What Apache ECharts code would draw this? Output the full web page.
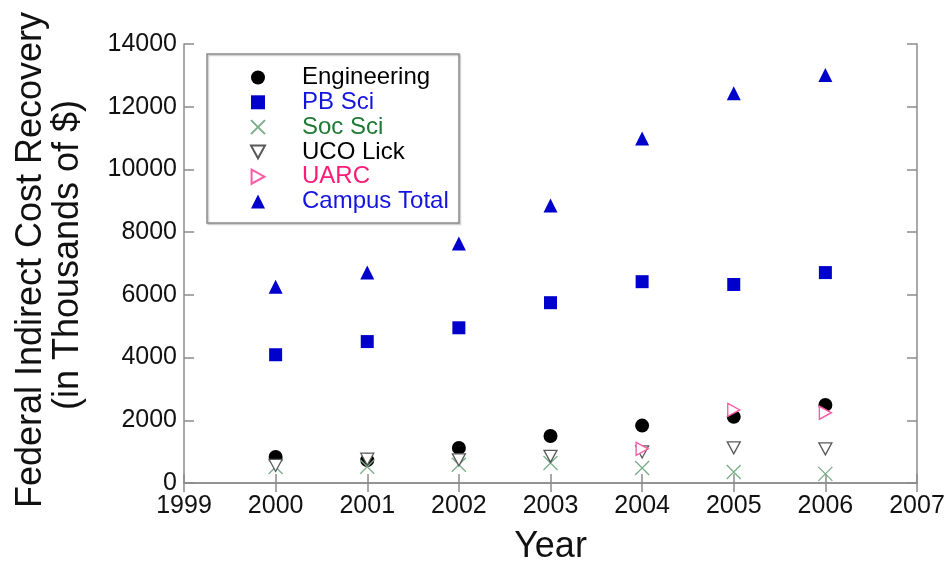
<!DOCTYPE html>
<html>
<head>
<meta charset="utf-8">
<script src="https://cdn.jsdelivr.net/npm/echarts@6/dist/echarts.min.js"></script>
<style>
html,body{margin:0;padding:0;background:#fff;}
#chart{width:952px;height:571px;}
</style>
</head>
<body>
<div id="chart"></div>
<script>
// ---- data ----
var years = [2000, 2001, 2002, 2003, 2004, 2005, 2006];
var engineering = [830, 730, 1120, 1500, 1830, 2110, 2490];
var pbSci = [4090, 4510, 4950, 5750, 6420, 6330, 6710];
var socSci = [510, 520, 580, 640, 480, 350, 290];
var ucoLick = [560, 760, 740, 850, 990, 1120, 1090];
var uarc = [null, null, null, null, 1090, 2330, 2240];
var campusTotal = [6260, 6710, 7640, 8850, 10990, 12430, 13010];
var xTicks = [1999, 2000, 2001, 2002, 2003, 2004, 2005, 2006, 2007];
var yTicks = [0, 2000, 4000, 6000, 8000, 10000, 12000, 14000];

var FONT = "'Liberation Sans', Arial, Helvetica, sans-serif";
var AXIS_COLOR = '#8c8c8c';

function pairs(vals) {
  return years.map(function (y, i) { return [y, vals[i]]; })
    .filter(function (p) { return p[1] !== null; });
}

var chart = echarts.init(document.getElementById('chart'), null, {renderer: 'canvas'});

var axisLineStyle = {lineStyle: {color: AXIS_COLOR, width: 1.5}};
var plain = function (v) { return String(v); };

var option = {
  backgroundColor: '#ffffff',
  animation: false,
  textStyle: {fontFamily: FONT},
  grid: {left: 184, right: 35, top: 44, bottom: 88},
  xAxis: [{
    type: 'value', min: xTicks[0], max: xTicks[xTicks.length - 1], interval: 1,
    splitLine: {show: false},
    axisLine: axisLineStyle,
    axisTick: {inside: true, length: 9, lineStyle: {color: AXIS_COLOR, width: 1.5}},
    axisLabel: {color: '#111', fontSize: 25, fontFamily: FONT, margin: 11, formatter: plain},
    name: 'Year', nameLocation: 'middle', nameGap: 46,
    nameTextStyle: {fontSize: 36, color: '#111', fontFamily: FONT}
  }, {
    type: 'value', position: 'top', min: xTicks[0], max: xTicks[xTicks.length - 1], interval: 1,
    splitLine: {show: false},
    axisLine: axisLineStyle,
    axisTick: {inside: true, length: 9, lineStyle: {color: AXIS_COLOR, width: 1.5}},
    axisLabel: {show: false}
  }],
  yAxis: [{
    type: 'value', min: yTicks[0], max: yTicks[yTicks.length - 1], interval: 2000,
    splitLine: {show: false},
    axisLine: axisLineStyle,
    axisTick: {inside: true, length: 10, lineStyle: {color: AXIS_COLOR, width: 1.5}},
    axisLabel: {color: '#111', fontSize: 25, fontFamily: FONT, margin: 7, formatter: plain}
  }, {
    type: 'value', position: 'right', min: yTicks[0], max: yTicks[yTicks.length - 1], interval: 2000,
    splitLine: {show: false},
    axisLine: axisLineStyle,
    axisTick: {inside: true, length: 10, lineStyle: {color: AXIS_COLOR, width: 1.5}},
    axisLabel: {show: false}
  }],
  legend: {
    orient: 'vertical', left: 207, top: 54,
    padding: [11.5, 8, 10, 43],
    itemWidth: 14, itemHeight: 14, itemGap: 0.8,
    selectedMode: false,
    textStyle: {fontSize: 24, fontFamily: FONT, color: '#000', padding: [0, 0, 0, 32]},
    data: [
      {name: 'Engineering', textStyle: {color: '#000000'}},
      {name: 'PB Sci', textStyle: {color: '#1414e0'}},
      {name: 'Soc Sci', textStyle: {color: '#1f7a35'}},
      {name: 'UCO Lick', textStyle: {color: '#000000'}},
      {name: 'UARC', textStyle: {color: '#ff1a75'}},
      {name: 'Campus Total', textStyle: {color: '#1414e0'}}
    ]
  },
  graphic: [
    {type: 'rect', z: 0, shape: {x: 207, y: 54, width: 252, height: 169},
      style: {fill: '#fff', stroke: '#8c8c8c', lineWidth: 1.5,
        shadowBlur: 1.5, shadowOffsetX: 1.2, shadowOffsetY: 1.2, shadowColor: 'rgba(0,0,0,0.25)'}},
    {type: 'text', x: 31, y: 260, rotation: Math.PI / 2,
      style: {text: 'Federal Indirect Cost Recovery', font: '36px ' + FONT, fill: '#111',
        textAlign: 'center', textVerticalAlign: 'middle'}},
    {type: 'text', x: 68, y: 255, rotation: Math.PI / 2,
      style: {text: '(in Thousands of $)', font: '36px ' + FONT, fill: '#111',
        textAlign: 'center', textVerticalAlign: 'middle'}}
  ],
  series: [
    {name: 'Engineering', type: 'scatter', data: pairs(engineering),
      symbol: 'circle', symbolSize: 14, itemStyle: {color: '#000000', opacity: 1}},
    {name: 'PB Sci', type: 'scatter', data: pairs(pbSci),
      symbol: 'rect', symbolSize: 13, itemStyle: {color: '#0000cc', opacity: 1}},
    {name: 'Soc Sci', type: 'scatter', data: pairs(socSci),
      symbol: 'path://M0,0L10,10M10,0L0,10', symbolSize: 14,
      itemStyle: {color: 'rgba(0,0,0,0)', borderColor: '#7aae88', borderWidth: 1.3, opacity: 1}},
    {name: 'UCO Lick', type: 'scatter', data: pairs(ucoLick),
      symbol: 'path://M0,0L12,0L6,11Z', symbolSize: [13, 12],
      itemStyle: {color: '#ffffff', borderColor: '#5a5a5a', borderWidth: 1.3, opacity: 1}},
    {name: 'UARC', type: 'scatter', data: pairs(uarc),
      symbol: 'path://M0,0L11,6L0,12Z', symbolSize: [12, 13],
      itemStyle: {color: '#ffffff', borderColor: '#ff5aa5', borderWidth: 1.4, opacity: 1}},
    {name: 'Campus Total', type: 'scatter', data: pairs(campusTotal),
      symbol: 'triangle', symbolSize: 14, itemStyle: {color: '#0000cc', opacity: 1}}
  ]
};
chart.setOption(option);
</script>
</body>
</html>
